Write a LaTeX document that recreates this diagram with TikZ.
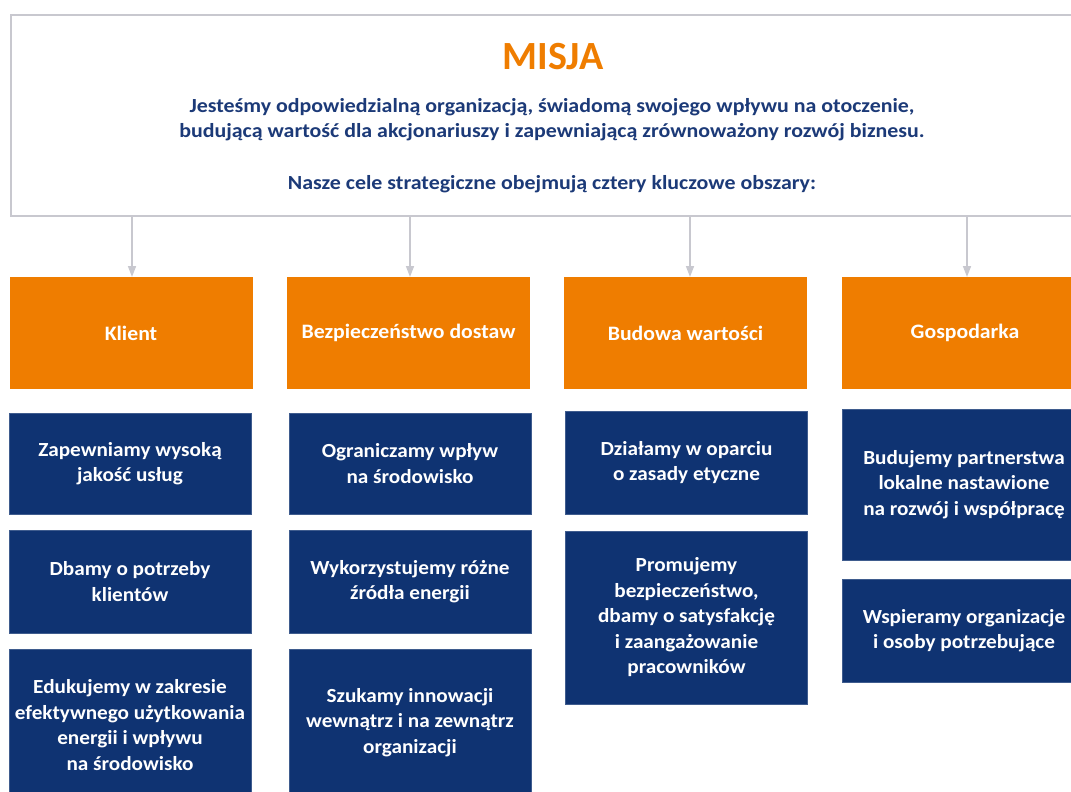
\documentclass[tikz,border=0pt]{standalone}
\usepackage{fontspec}
\setmainfont{Carlito}
\newfontfamily\headfont{Carlito}[FakeStretch=1.095]
\newfontfamily\boxfont{Carlito}[FakeStretch=1.06]
\newfontfamily\catfont{Carlito}[FakeStretch=1.06]
\usetikzlibrary{arrows.meta}
\definecolor{misjaorange}{HTML}{EF7D00}
\definecolor{boxblue}{HTML}{0F3372}
\definecolor{textnavy}{HTML}{1C3A78}
\definecolor{linegray}{HTML}{C8C8CF}
\tikzset{
  orangebox/.style={fill=misjaorange, draw=none, minimum width=243pt, minimum height=112pt, inner sep=0pt,
    text=white, font=\catfont\bfseries\fontsize{20.5}{25}\selectfont, align=center},
  bluebox/.style={fill=boxblue, draw=boxblue!80!white, line width=0.6pt, minimum width=242pt, inner sep=0pt,
    text=white, font=\boxfont\bfseries\fontsize{20}{25.5}\selectfont, align=center},
  headtext/.style={text=textnavy, font=\headfont\bfseries\fontsize{20}{25}\selectfont, align=center, inner sep=0pt},
  arr/.style={draw=linegray, line width=1.6pt, -{Triangle[length=11pt,width=8pt]}},
}
\begin{document}
\begin{tikzpicture}[x=1pt,y=-1pt]
\useasboundingbox (0,0) rectangle (1071,792);
% mission box
\node[draw=linegray, line width=2pt, fill=white, minimum width=1080pt, minimum height=201pt, inner sep=0pt, anchor=north west] (mission) at (10,14) {};
\node[text=misjaorange, font=\bfseries\fontsize{40}{42}\selectfont, inner sep=0pt] (title) at (553,57) {MISJA};
\node[headtext] (statement) at (552,120) {Jesteśmy odpowiedzialną organizacją, świadomą swojego wpływu na otoczenie,\\budującą wartość dla akcjonariuszy i zapewniającą zrównoważony rozwój biznesu.};
\node[headtext] (intro) at (552,184) {Nasze cele strategiczne obejmują cztery kluczowe obszary:};
% orange boxes
\node[orangebox] (o1) at (131,333) {Klient};
\node[orangebox] (o2) at (408.5,333) {Bezpieczeństwo dostaw};
\node[orangebox] (o3) at (685.5,333) {Budowa wartości};
\node[orangebox, minimum width=246pt] (o4) at (965,333) {Gospodarka};
% arrow tips on the top edges of the orange boxes
\coordinate (t1) at (132,277);
\coordinate (t2) at (410,277);
\coordinate (t3) at (690,277);
\coordinate (t4) at (967,277);
\foreach \t in {t1,t2,t3,t4}{
  \draw[arr] (\t |- mission.south) -- (\t);
}
% blue boxes column 1
\node[bluebox, minimum height=101pt] (b11) at (130,463.5) {Zapewniamy wysoką\\jakość usług};
\node[bluebox, minimum height=103pt] (b12) at (130,581.5) {Dbamy o potrzeby\\klientów};
\node[bluebox, minimum height=151pt, anchor=north] (b13) at (130,649) {Edukujemy w zakresie\\efektywnego użytkowania\\energii i wpływu\\na środowisko};
% column 2
\node[bluebox, minimum height=101pt] (b21) at (410,463.5) {Ograniczamy wpływ\\na środowisko};
\node[bluebox, minimum height=103pt] (b22) at (410,581.5) {Wykorzystujemy różne\\źródła energii};
\node[bluebox, minimum height=146pt, anchor=north] (b23) at (410,649) {Szukamy innowacji\\wewnątrz i na zewnątrz\\organizacji};
% column 3
\node[bluebox, minimum height=103pt] (b31) at (686.5,462.5) {Działamy w oparciu\\o zasady etyczne};
\node[bluebox, minimum height=173pt] (b32) at (686.5,617.5) {Promujemy\\bezpieczeństwo,\\dbamy o satysfakcję\\i zaangażowanie\\pracowników};
% column 4
\node[bluebox, minimum width=244pt, minimum height=151pt] (b41) at (964,484.5) {Budujemy partnerstwa\\lokalne nastawione\\na rozwój i współpracę};
\node[bluebox, minimum width=244pt, minimum height=103pt] (b42) at (964,630.5) {Wspieramy organizacje\\i osoby potrzebujące};
\end{tikzpicture}
\end{document}
